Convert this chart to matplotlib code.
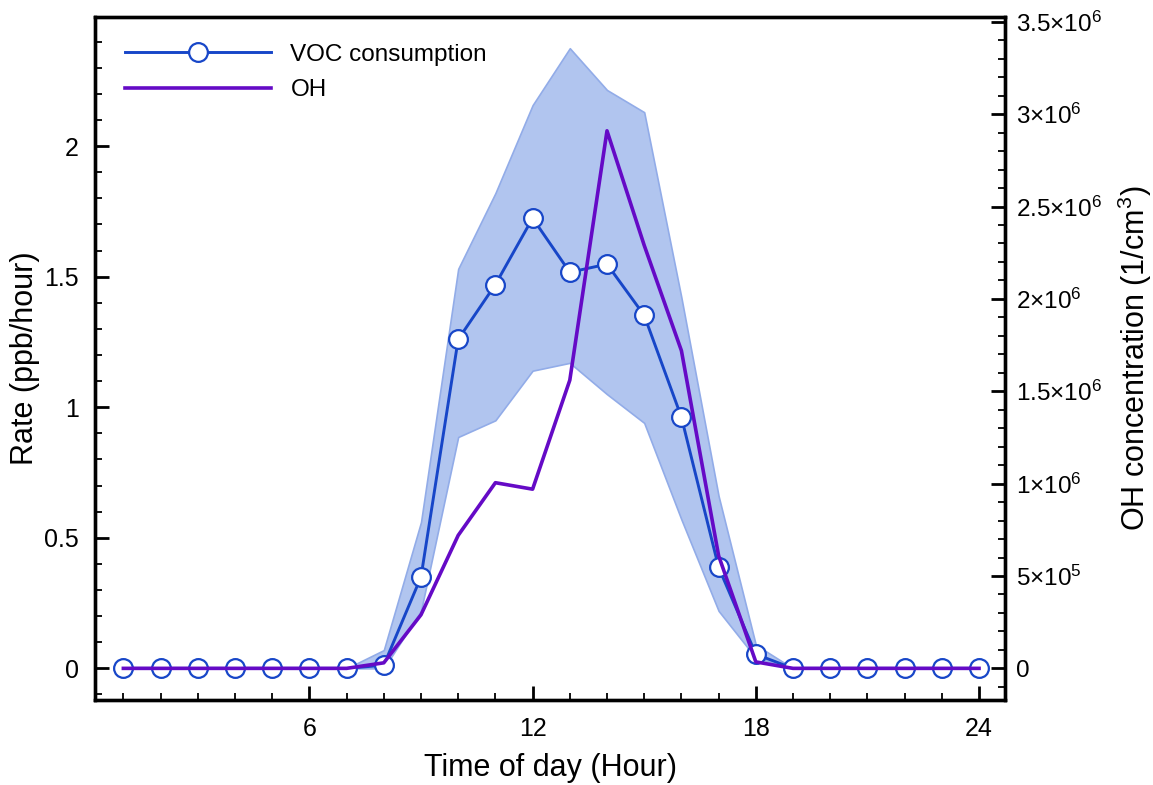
import numpy as np
import matplotlib
matplotlib.use("Agg")
import matplotlib.pyplot as plt
from matplotlib.ticker import MultipleLocator, FixedLocator, FixedFormatter
from matplotlib.lines import Line2D

plt.rcParams["font.family"] = ["Liberation Sans", "DejaVu Sans"]
plt.rcParams["mathtext.fontset"] = "custom"
plt.rcParams["mathtext.rm"] = "Liberation Sans"
plt.rcParams["mathtext.it"] = "Liberation Sans:italic"

# -----------------------------
# Data
# -----------------------------
hours = list(range(1, 25))

voc_rate = [0, 0, 0, 0, 0, 0, 0, 0.012, 0.35, 1.26, 1.47, 1.724, 1.517, 1.548,
            1.352, 0.962, 0.387, 0.054, 0, 0, 0, 0, 0, 0]

voc_upper = [0, 0, 0, 0, 0, 0, 0, 0.07, 0.56, 1.53, 1.82, 2.157, 2.375, 2.215,
             2.13, 1.42, 0.66, 0.09, 0, 0, 0, 0, 0, 0]

voc_lower = [0, 0, 0, 0, 0, 0, 0, 0.0, 0.22, 0.886, 0.95, 1.14, 1.17, 1.05,
             0.94, 0.57, 0.22, 0.04, 0, 0, 0, 0, 0, 0]

oh_conc = [0, 0, 0, 0, 0, 0, 0, 0.03e6, 0.29e6, 0.72e6, 1.005e6, 0.97e6, 1.56e6,
           2.91e6, 2.29e6, 1.72e6, 0.61e6, 0.035e6, 0, 0, 0, 0, 0, 0]

x_major = [6, 12, 18, 24]
x_labels = ["6", "12", "18", "24"]
x_minor = [h for h in hours if h not in x_major]
rate_ticks = [0, 0.5, 1, 1.5, 2]
rate_labels = ["0", "0.5", "1", "1.5", "2"]
oh_ticks = [0, 5e5, 1e6, 1.5e6, 2e6, 2.5e6, 3e6, 3.5e6]
oh_tick_labels = ["0", "5×10$^{5}$", "1×10$^{6}$", "1.5×10$^{6}$", "2×10$^{6}$",
                  "2.5×10$^{6}$", "3×10$^{6}$", "3.5×10$^{6}$"]

# -----------------------------
# Style
# -----------------------------
VOC_COLOR = "#1746c8"
BAND_FILL = "#b1c5ef"
BAND_EDGE = "#92ace8"
OH_COLOR = "#650ac6"

fig = plt.figure(figsize=(11.53, 7.85), dpi=100)
ax = fig.add_axes([0.0828, 0.108, 0.7889, 0.8705])
ax2 = ax.twinx()

ax.fill_between(hours, voc_lower, voc_upper, facecolor=BAND_FILL,
                edgecolor=BAND_EDGE, linewidth=1.2, zorder=1)
ax.plot(hours, voc_rate, color=VOC_COLOR, linewidth=2.1, marker="o",
        markersize=13.5, markerfacecolor="white", markeredgecolor=VOC_COLOR,
        markeredgewidth=1.6, zorder=3)

ax2.plot(hours, oh_conc, color=OH_COLOR, linewidth=2.6, zorder=4)

# axes ranges
ax.set_xlim(0.25, 24.7)
ax.set_ylim(-0.122, 2.495)
ax2.set_ylim(-0.122 * 1.4135e6, 2.495 * 1.4135e6)

# ticks
ax.set_xticks(x_major, x_labels)
ax.set_xticks(x_minor, minor=True)
ax.yaxis.set_major_locator(FixedLocator(rate_ticks))
ax.yaxis.set_major_formatter(FixedFormatter(rate_labels))
ax.yaxis.set_minor_locator(MultipleLocator(0.1))

ax2.yaxis.set_major_locator(FixedLocator(oh_ticks))
ax2.yaxis.set_major_formatter(FixedFormatter(oh_tick_labels))
ax2.yaxis.set_minor_locator(MultipleLocator(1e5))

ax.tick_params(axis="both", which="both", direction="in", top=False, right=False,
               labelsize=18, width=2.0)
ax.tick_params(axis="both", which="major", length=10, pad=12)
ax.tick_params(axis="both", which="minor", length=5, width=1.3)
ax2.tick_params(axis="y", which="both", direction="in", labelsize=17.5, width=2.0)
ax2.tick_params(axis="y", which="major", length=10, pad=8)
ax2.tick_params(axis="y", which="minor", length=5, width=1.3)

for spine in ax2.spines.values():
    spine.set_linewidth(2.4)
for spine in ax.spines.values():
    spine.set_linewidth(2.4)

ax.set_xlabel("Time of day (Hour)", fontsize=22, labelpad=9)
ax.set_ylabel("Rate (ppb/hour)", fontsize=22)
ax.yaxis.set_label_coords(-0.061, 0.5)
ax2.set_ylabel("OH concentration (1/cm$^{3}$)", fontsize=22, labelpad=10)

# legend
handles = [
    Line2D([], [], color=VOC_COLOR, linewidth=2.1, marker="o", markersize=13.5,
           markerfacecolor="white", markeredgecolor=VOC_COLOR, markeredgewidth=1.6),
    Line2D([], [], color=OH_COLOR, linewidth=2.6),
]
ax2.legend(handles, ["VOC consumption", "OH"], loc="upper left", frameon=False,
           fontsize=17.5, handlelength=6.0, handletextpad=0.8, labelspacing=0.55,
           borderaxespad=0.0, bbox_to_anchor=(0.022, 0.975))

fig.savefig("out.png", dpi=100)
